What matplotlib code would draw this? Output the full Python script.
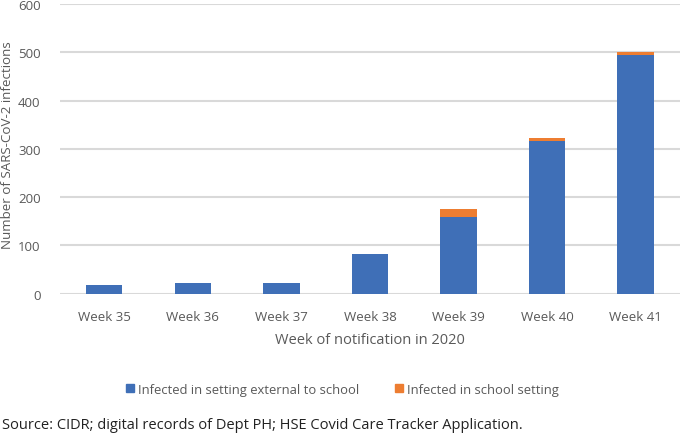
import numpy as np
import matplotlib.pyplot as plt
from matplotlib.patches import Patch

weeks = ['Week 35', 'Week 36', 'Week 37', 'Week 38', 'Week 39', 'Week 40', 'Week 41']
external = [18, 22, 22, 82, 159, 316, 495]
school = [0, 0, 0, 0, 16, 6, 5]
yticks = [0, 100, 200, 300, 400, 500, 600]

blue = '#3f6fb7'
orange = '#ed7d31'
grey = '#595959'

plt.rcParams['font.family'] = ['Open Sans', 'DejaVu Sans']

fig = plt.figure(figsize=(6.85, 4.35), dpi=100)
ax = fig.add_axes([0.0876, 0.3225, 0.905, 0.666])

x = np.arange(len(weeks))
ax.bar(x, external, width=0.41, color=blue, zorder=3)
ax.bar(x, school, width=0.41, bottom=external, color=orange, zorder=3)

ax.set_ylim(0, 600)
ax.set_xlim(-0.5, len(weeks) - 0.5)
ax.set_yticks(yticks)
ax.set_xticks(x)
ax.set_xticklabels(weeks)
ax.yaxis.grid(True, color='#d9d9d9', linewidth=1.5, zorder=0)
ax.set_axisbelow(True)
for s in ax.spines.values():
    s.set_visible(False)
ax.tick_params(length=0, colors=grey, labelsize=9.5)
ax.tick_params(axis='x', pad=12)
ax.tick_params(axis='y', pad=14)

ax.set_ylabel('Number of SARS-CoV-2 infections', color=grey, fontsize=9.6)
ax.yaxis.set_label_coords(-0.075, 0.515)
ax.set_xlabel('Week of notification in 2020', color=grey, fontsize=10.5, labelpad=6)

handles = [Patch(color=blue), Patch(color=orange)]
fig.legend(handles, ['Infected in setting external to school', 'Infected in school setting'],
           loc='center', bbox_to_anchor=(0.5, 0.103), ncol=2, frameon=False,
           fontsize=9.4, labelcolor=grey, handlelength=0.6, handleheight=0.6,
           handletextpad=0.3, columnspacing=2.8)

fig.text(0.003, 0.022, 'Source: CIDR; digital records of Dept PH; HSE Covid Care Tracker Application.',
         fontsize=10.5, color='#222222', ha='left', va='center')

fig.savefig('out.png', dpi=100)
